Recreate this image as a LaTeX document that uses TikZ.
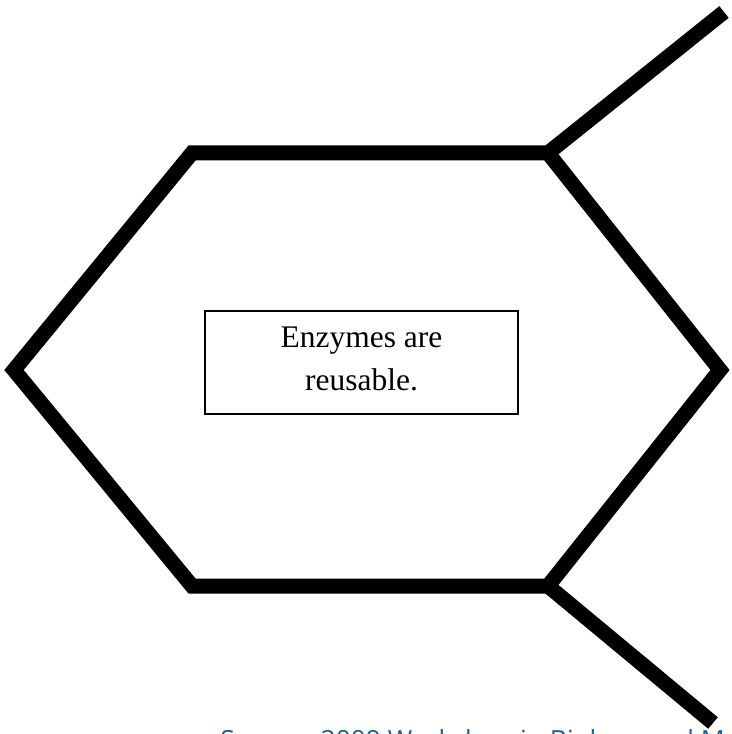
\documentclass[tikz,border=0pt]{standalone}
\usepackage{fontspec}
\setmainfont{Liberation Serif}
\newfontfamily\sourcefont{Open Sans}
\definecolor{sourceblue}{RGB}{31,94,150}

\newcommand\defcoordinates{%
      \coordinate (tl) at (192, 153);
      \coordinate (tr) at (548, 153);
      \coordinate (r) at (720, 370);
      \coordinate (br) at (548, 586);
      \coordinate (bl) at (192, 586);
      \coordinate (l) at (14, 370);
      \coordinate (up) at (724, 12);
      \coordinate (down) at (713, 723);
    }

\tikzset{
  ring/.style={black, line width=11.25pt},
  factbox/.style={draw, line width=0.9pt, minimum width=234.75pt, minimum height=77.25pt,
    align=center, font=\fontsize{23.6}{32}\selectfont, inner sep=0pt},
  sourcetext/.style={anchor=base west, inner sep=0pt, text=sourceblue,
    font=\sourcefont\fontsize{19.8}{24}\selectfont}
}

\begin{document}
\begin{tikzpicture}[x=0.75pt, y=-0.75pt]
      \useasboundingbox (0, 0) rectangle (731, 734);
      \defcoordinates

      % hexagon with its two side branches
      \draw[ring] (tl) -- (tr) -- (r) -- (br) -- (bl) -- (l) -- cycle;
      \draw[ring] (tr) -- (up);
      \draw[ring] (br) -- (down);

      % text box
      \node[factbox] (fact) at (361.5, 362.5) {Enzymes are\\reusable.\rule[-6pt]{0pt}{0pt}};

      % source line, cut by the page edge as in the original
      \node[sourcetext] (source) at (220, 749.5) {Source: 2009 Workshop in Biology and Medicine};
    \end{tikzpicture}
\end{document}
